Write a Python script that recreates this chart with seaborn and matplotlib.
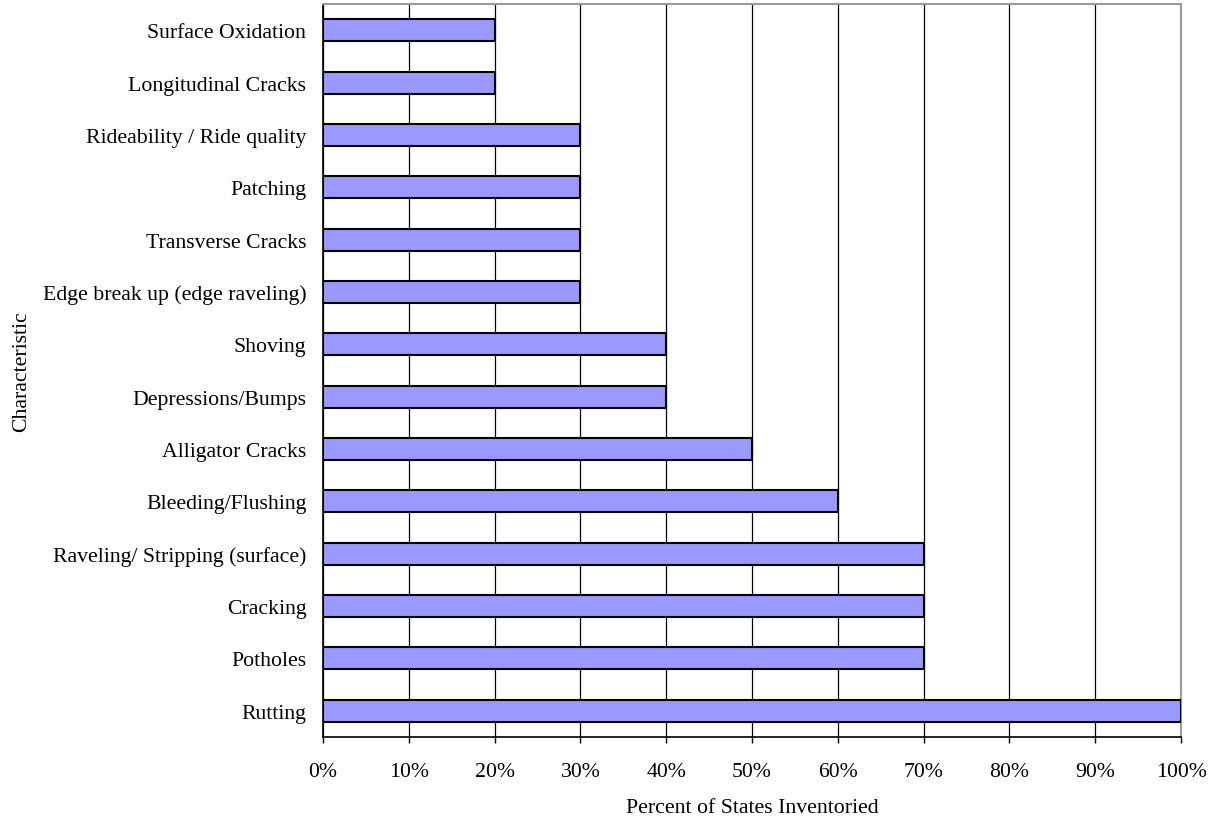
import matplotlib
matplotlib.use("Agg")
import matplotlib.pyplot as plt
import seaborn as sns
import pandas as pd
from matplotlib.ticker import PercentFormatter

characteristics = [
    "Surface Oxidation",
    "Longitudinal Cracks",
    "Rideability / Ride quality",
    "Patching",
    "Transverse Cracks",
    "Edge break up (edge raveling)",
    "Shoving",
    "Depressions/Bumps",
    "Alligator Cracks",
    "Bleeding/Flushing",
    "Raveling/ Stripping (surface)",
    "Cracking",
    "Potholes",
    "Rutting",
]
percent_states = [20, 20, 30, 30, 30, 30, 40, 40, 50, 60, 70, 70, 70, 100]

df = pd.DataFrame({"Characteristic": characteristics, "Percent": percent_states})

sns.set_theme(style="white")
plt.rcParams["font.family"] = ["Liberation Serif", "DejaVu Serif"]

FS = 15.7

fig = plt.figure(figsize=(12.11, 8.20), dpi=100)
ax = fig.add_axes([323 / 1211, 1 - 738 / 820, (1181 - 323) / 1211, (738 - 5) / 820])

sns.barplot(
    data=df, x="Percent", y="Characteristic", orient="h",
    color="#9999FF", saturation=1, edgecolor="black", linewidth=1.5,
    width=0.42, ax=ax, zorder=3,
)

ax.set_xlim(0, 100)
ax.set_xticks(range(0, 101, 10))
ax.xaxis.set_major_formatter(PercentFormatter(decimals=0))
ax.grid(axis="x", color="black", linewidth=0.9, zorder=0)
ax.grid(axis="y", visible=False)
ax.set_axisbelow(True)

for side in ("top", "right"):
    ax.spines[side].set_color("#999999")
    ax.spines[side].set_linewidth(1.5)
for side in ("left", "bottom"):
    ax.spines[side].set_color("black")
    ax.spines[side].set_linewidth(1.2)

ax.tick_params(axis="x", direction="out", length=4, width=1, color="black",
               bottom=True, labelsize=FS, pad=14, labelcolor="black")
ax.tick_params(axis="y", length=0, labelsize=FS, pad=12, labelcolor="black")

ax.set_xlabel("Percent of States Inventoried", fontsize=FS, labelpad=12, color="black")
ax.set_ylabel("Characteristic", fontsize=FS, color="black")
ax.yaxis.set_label_coords(-0.340, 0.5)

fig.savefig("out.png", dpi=100)
